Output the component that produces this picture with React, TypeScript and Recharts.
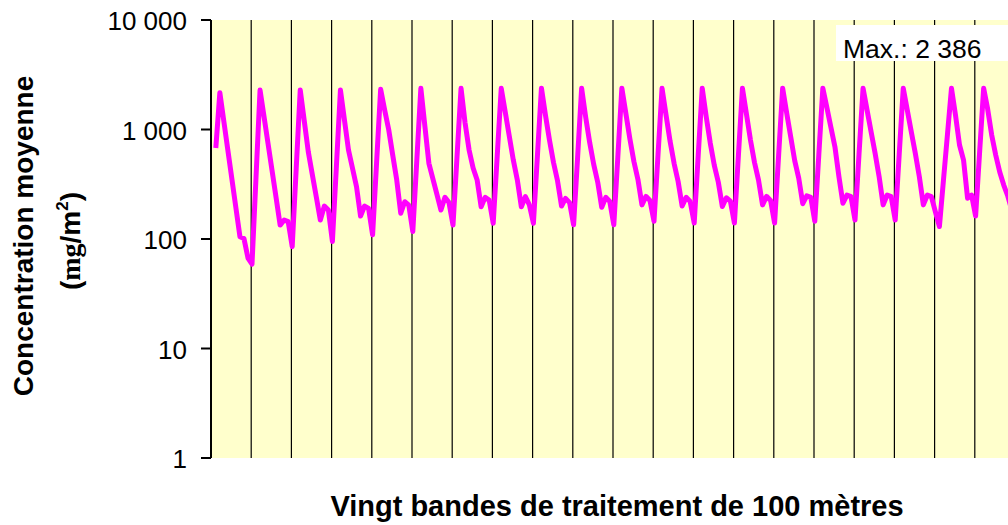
import { LineChart, Line, XAxis, YAxis, CartesianGrid } from 'recharts'

// Concentration moyenne (mg/m2) par échantillon, dix échantillons par bande de 100 m
const band01 = [null, 678, 2170, 1183, 646, 352, 192, 105, 101, 67]
const band02 = [59, 368, 2295, 1301, 738, 418, 237, 134, 149, 144]
const band03 = [85, 442, 2295, 1199, 627, 388, 241, 149, 200, 184]
const band04 = [95, 466, 2295, 1220, 650, 442, 300, 162, 200, 190]
const band05 = [109, 505, 2330, 1507, 1000, 585, 346, 172, 219, 204]
const band06 = [117, 525, 2378, 1077, 491, 354, 255, 184, 240, 215]
const band07 = [134, 565, 2378, 1150, 650, 445, 346, 197, 240, 227]
const band08 = [139, 575, 2378, 1439, 870, 526, 346, 197, 244, 205]
const band09 = [139, 575, 2386, 1350, 800, 500, 340, 200, 235, 215]
const band10 = [135, 560, 2380, 1300, 760, 480, 330, 195, 240, 220]
const band11 = [135, 560, 2380, 1400, 820, 510, 350, 205, 245, 225]
const band12 = [145, 590, 2380, 1350, 780, 490, 335, 200, 240, 220]
const band13 = [140, 580, 2380, 1300, 750, 470, 330, 198, 238, 222]
const band14 = [140, 580, 2380, 1380, 800, 500, 345, 205, 245, 225]
const band15 = [140, 580, 2386, 1420, 860, 520, 360, 210, 248, 240]
const band16 = [145, 590, 2386, 1585, 1050, 697, 371, 212, 252, 244]
const band17 = [149, 596, 2378, 1507, 955, 607, 371, 205, 252, 244]
const band18 = [149, 596, 2378, 1507, 955, 607, 371, 205, 252, 244]
const band19 = [177, 130, 343, 902, 2378, 1356, 722, 526, 236, 252]
const band20 = [162, 621, 2378, 1538, 891, 585, 409, 311, 247, 184]

const bands = [
  band01, band02, band03, band04, band05, band06, band07, band08, band09, band10,
  band11, band12, band13, band14, band15, band16, band17, band18, band19, band20,
]

const bandLength = 100 // mètres
const sampleStep = 10
const sampleStart = 2
const yTicks = [1, 10, 100, 1000, 10000]
const maxLabel = 'Max.: 2 386'

const data = bands.flatMap((band, b) =>
  band.map((v, j) => ({ x: b * bandLength + sampleStart + j * sampleStep, v })),
)
const bandEdges = bands.map((_, b) => b * bandLength).concat(bands.length * bandLength)

const font = '"Liberation Sans", Arial, sans-serif'
const fmt = (n: number) => String(n).replace(/\B(?=(\d{3})+(?!\d))/g, ' ')

function YTick({ x, y, payload }: any) {
  return (
    <text x={x} y={y} dy={10} textAnchor="end" fontSize={26} fontFamily={font} fill="#000">
      {fmt(payload.value)}
    </text>
  )
}

export default function App() {
  return (
    <div style={{ position: 'absolute', left: 0, top: 0, width: 1008, height: 525, overflow: 'hidden', background: '#fff' }}>
      <LineChart width={1015} height={525} data={data} margin={{ top: 20, right: 0, bottom: 66, left: 0 }}>
        <CartesianGrid horizontal={false} stroke="#000" strokeWidth={1.2} fill="#FFFFCC" fillOpacity={1} />
        <XAxis
          type="number"
          dataKey="x"
          domain={[0, bands.length * bandLength]}
          ticks={bandEdges}
          interval={0}
          tickFormatter={() => ''}
          tickLine={false}
          axisLine={false}
          height={1}
        />
        <YAxis
          scale="log"
          domain={[1, 10000]}
          ticks={yTicks}
          interval={0}
          allowDataOverflow
          width={211}
          tickSize={10}
          tickMargin={14}
          axisLine={{ stroke: '#000', strokeWidth: 2 }}
          tickLine={{ stroke: '#000', strokeWidth: 2 }}
          tick={<YTick />}
        />
        <Line
          type="linear"
          dataKey="v"
          stroke="#FF00FF"
          strokeWidth={5}
          strokeLinejoin="round"
          dot={false}
          activeDot={false}
          isAnimationActive={false}
        />
      </LineChart>
      <svg width={1008} height={525} style={{ position: 'absolute', left: 0, top: 0, pointerEvents: 'none' }}>
        <rect x={836} y={25} width={200} height={36} fill="#fff" />
        <text x={843} y={58} fontSize={26.5} fontFamily={font} fill="#000">{maxLabel}</text>
        <text transform="translate(33, 236) rotate(-90)" textAnchor="middle" fontSize={28} fontWeight="bold" fontFamily={font} fill="#000">
          Concentration moyenne
        </text>
        <text transform="translate(80, 241) rotate(-90)" textAnchor="middle" fontSize={28} fontWeight="bold" fontFamily={font} fill="#000">
          (<tspan fontFamily='"Liberation Serif", serif'>mg</tspan>/m<tspan fontSize={17} dy={-12}>2</tspan><tspan dy={12}>)</tspan>
        </text>
        <text x={617} y={516} textAnchor="middle" fontSize={29} fontWeight="bold" fontFamily={font} fill="#000">
          Vingt bandes de traitement de 100 mètres
        </text>
      </svg>
    </div>
  )
}
